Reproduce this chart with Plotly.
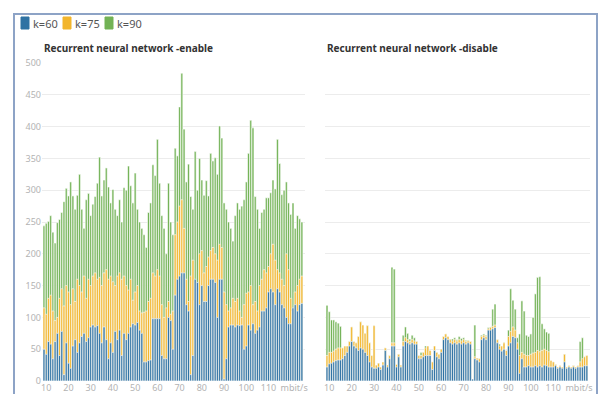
import plotly.graph_objects as go

# Throughput percentiles per bitrate step (bars overlaid: k=90 >= k=75 >= k=60)
x_vals = list(range(9, 126))

enable_k90 = [
    244, 248, 251, 260, 234, 217, 249, 254, 265,
    282, 303, 291, 313, 291, 270, 292, 325,
    270, 240, 285, 295, 260, 278, 290,
    311, 352, 291, 316, 335, 305, 280, 301, 270, 260, 285, 250,
    304, 300, 338, 307, 280, 327, 270, 250, 240, 230, 210, 265, 280,
    340, 323, 380, 311, 260, 240, 200, 311, 250, 230,
    366, 354, 431, 484, 396, 313, 341, 290, 270, 361, 300, 350,
    316, 292, 315, 291, 358, 346, 351, 325, 401, 382,
    280, 270, 250, 240, 220, 260, 280, 270, 275, 285, 313, 358,
    410, 398, 290, 270, 240, 265, 270, 288, 288, 296, 316, 302,
    380, 342, 293, 300, 313, 280, 262, 280, 240, 260, 255, 250,
]
enable_k75 = [
    115, 105, 130, 135, 110, 95, 100, 130, 145,
    118, 150, 140, 120, 145, 125, 160, 150,
    140, 165, 130, 160, 150, 165, 170,
    160, 163, 150, 170, 175, 160, 165, 156, 150, 165, 170, 160,
    165, 150, 143, 160, 127, 140, 150, 110, 107, 108, 110, 125, 130,
    170, 165, 175, 165, 120, 100, 115, 125, 105, 110,
    230, 250, 275, 285, 240, 160, 125, 165, 190, 127, 140, 200,
    205, 170, 180, 195, 205, 210, 200, 190, 215, 210,
    140, 120, 110, 115, 130, 125, 130, 110, 100, 120, 138, 140,
    150, 120, 125, 110, 150, 160, 175, 170, 180, 200, 215, 190,
    175, 170, 160, 150, 200, 175, 130, 110, 140, 150, 160, 165,
]
enable_k60 = [
    50, 42, 62, 58, 35, 62, 75, 40, 78,
    10, 60, 28, 20, 55, 65, 45, 60,
    70, 75, 62, 68, 85, 88, 85,
    87, 75, 60, 85, 65, 35, 60, 45, 78, 65, 80, 40,
    75, 65, 75, 85, 90, 88, 92, 80, 75, 30, 30, 32, 33,
    98, 98, 98, 98, 40, 35, 35, 100, 95, 50,
    135, 160, 165, 170, 170, 120, 110, 10, 40, 160, 155, 120,
    150, 125, 125, 150, 160, 160, 155, 100, 160, 160,
    3, 35, 85, 88, 88, 85, 88, 87, 88, 50, 55, 88,
    80, 90, 75, 80, 85, 110, 110, 115, 140, 145, 140, 120,
    145, 140, 120, 115, 100, 90, 90, 115, 120, 110, 120, 122,
]

disable_k90 = [
    119, 109, 96, 96, 93, 91, 86, 52, 55, 55,
    62, 85, 62, 60, 70, 93, 88, 75, 87, 60,
    40, 87, 25, 28, 22, 30, 52, 25, 40, 179,
    176, 26, 42, 25, 72, 85, 75, 66, 72, 68,
    62, 40, 45, 45, 55, 55, 48, 30, 55, 45,
    42, 50, 70, 74, 70, 66, 66, 68, 65, 70,
    67, 68, 64, 64, 62, 3, 88, 36, 35, 72,
    74, 72, 84, 85, 113, 121, 65, 58, 55, 60,
    48, 80, 145, 127, 113, 68, 74, 126, 110, 72,
    70, 74, 100, 137, 163, 164, 90, 82, 77, 75,
    32, 30, 26, 22, 24, 22, 42, 22, 24, 22,
    24, 22, 24, 62, 68, 38, 40,
]
disable_k75 = [
    40, 45, 45, 47, 50, 52, 52, 52, 55, 55,
    62, 85, 62, 60, 70, 93, 88, 75, 87, 60,
    40, 87, 25, 28, 22, 30, 52, 25, 40, 60,
    60, 26, 42, 25, 62, 68, 65, 62, 65, 63,
    62, 40, 40, 45, 52, 55, 48, 30, 55, 45,
    42, 50, 70, 74, 70, 65, 63, 65, 63, 65,
    63, 65, 62, 63, 62, 3, 38, 36, 35, 70,
    72, 70, 82, 84, 86, 88, 65, 55, 55, 60,
    48, 70, 78, 85, 80, 60, 40, 45, 42, 40,
    40, 42, 44, 45, 48, 46, 48, 50, 48, 46,
    32, 30, 26, 22, 24, 22, 42, 22, 24, 22,
    24, 22, 24, 30, 35, 38, 40,
]
disable_k60 = [
    22, 27, 28, 30, 32, 33, 33, 35, 40, 45,
    55, 62, 55, 52, 48, 52, 50, 45, 40, 30,
    22, 20, 20, 22, 18, 25, 48, 22, 35, 55,
    55, 22, 38, 22, 55, 62, 60, 58, 60, 58,
    58, 35, 35, 38, 40, 40, 40, 18, 48, 38,
    35, 45, 65, 68, 65, 60, 58, 60, 58, 60,
    58, 60, 58, 60, 58, 3, 35, 33, 30, 65,
    68, 65, 80, 80, 82, 84, 60, 50, 47, 50,
    40, 55, 60, 70, 68, 50, 12, 35, 22, 22,
    24, 22, 22, 24, 22, 24, 22, 25, 24, 22,
    22, 22, 24, 20, 22, 20, 30, 20, 22, 20,
    22, 20, 22, 22, 22, 24, 24,
]

tick_vals = [10, 20, 30, 40, 50, 60, 70, 80, 90, 100, 110, 121.5]
tick_text = ["10", "20", "30", "40", "50", "60", "70", "80", "90", "100", "110", "mbit/s"]
y_ticks = list(range(0, 501, 50))

series = [
    ("k=90", "#72b255", enable_k90, disable_k90),
    ("k=75", "#f2b52c", enable_k75, disable_k75),
    ("k=60", "#2f72a3", enable_k60, disable_k60),
]
legend_items = [("k=60", "#2f72a3", 21), ("k=75", "#f2b52c", 63), ("k=90", "#72b255", 105)]

W, H = 603, 394
ML, MR, MT, MB = 42, 13, 63, 13
plot_w = W - ML - MR
plot_h = H - MT - MB


def px_x(px):
    return (px - ML) / plot_w


def px_y(py):
    return 1 - (py - MT) / plot_h


fig = go.Figure()
for name, color, left_vals, right_vals in series:
    for axis_suffix, vals in (("", left_vals), ("2", right_vals)):
        fig.add_trace(go.Bar(
            x=x_vals, y=vals, name=name, showlegend=False,
            marker=dict(color=color, line=dict(color="white", width=0.6)),
            xaxis="x" + axis_suffix, yaxis="y" + axis_suffix,
        ))

left_end = px_x(305)
right_start = px_x(325)
x_range = [8.1, 126.4]

axis_font = dict(family="Noto Sans, sans-serif", size=9, color="#b3b3b3")
common_x = dict(range=x_range, tickvals=tick_vals, ticktext=tick_text, tickangle=0,
                showgrid=False, zeroline=False, showline=False, ticks="",
                ticklabelstandoff=0, automargin=False, tickfont=axis_font)
common_y = dict(range=[0, 500], tickvals=y_ticks, showgrid=True, gridcolor="#ececec",
                gridwidth=1, zeroline=False, showline=False, ticks="", automargin=False)

fig.update_layout(
    width=W, height=H,
    margin=dict(l=ML, r=MR, t=MT, b=MB, autoexpand=False),
    paper_bgcolor="white", plot_bgcolor="white",
    barmode="overlay", bargap=0.12,
    font=dict(family="Noto Sans, sans-serif"),
    showlegend=False,
    xaxis=dict(domain=[0, left_end], **common_x),
    xaxis2=dict(domain=[right_start, 1], **common_x),
    yaxis=dict(anchor="x", tickfont=axis_font, **common_y),
    yaxis2=dict(anchor="x2", showticklabels=False, **common_y),
)

# panel titles
title_y = px_y(48)
for x_paper, text in ((0, "Recurrent neural network -enable"),
                      (right_start, "Recurrent neural network -disable")):
    fig.add_annotation(x=x_paper, y=title_y, xref="paper", yref="paper",
                       xanchor="left", yanchor="middle", showarrow=False,
                       text="<b>" + text + "</b>",
                       font=dict(family="Noto Sans, sans-serif", size=10, color="#333333"))

# legend swatches and labels
for label, color, left_px in legend_items:
    fig.add_shape(type="rect", xref="paper", yref="paper",
                  x0=px_x(left_px), x1=px_x(left_px + 8),
                  y0=px_y(29), y1=px_y(17),
                  line=dict(color=color, width=1), fillcolor=color)
    fig.add_annotation(x=px_x(left_px + 10), y=px_y(23), xref="paper", yref="paper",
                       xanchor="left", yanchor="middle", showarrow=False, text=label,
                       font=dict(family="Noto Sans, sans-serif", size=11, color="#555555"))

# outer panel frame
fig.add_shape(type="rect", xref="paper", yref="paper",
              x0=px_x(14), x1=px_x(597), y0=px_y(H + 10), y1=px_y(14),
              line=dict(color="#8da3c6", width=2), layer="below")

fig.write_html("out.html")
